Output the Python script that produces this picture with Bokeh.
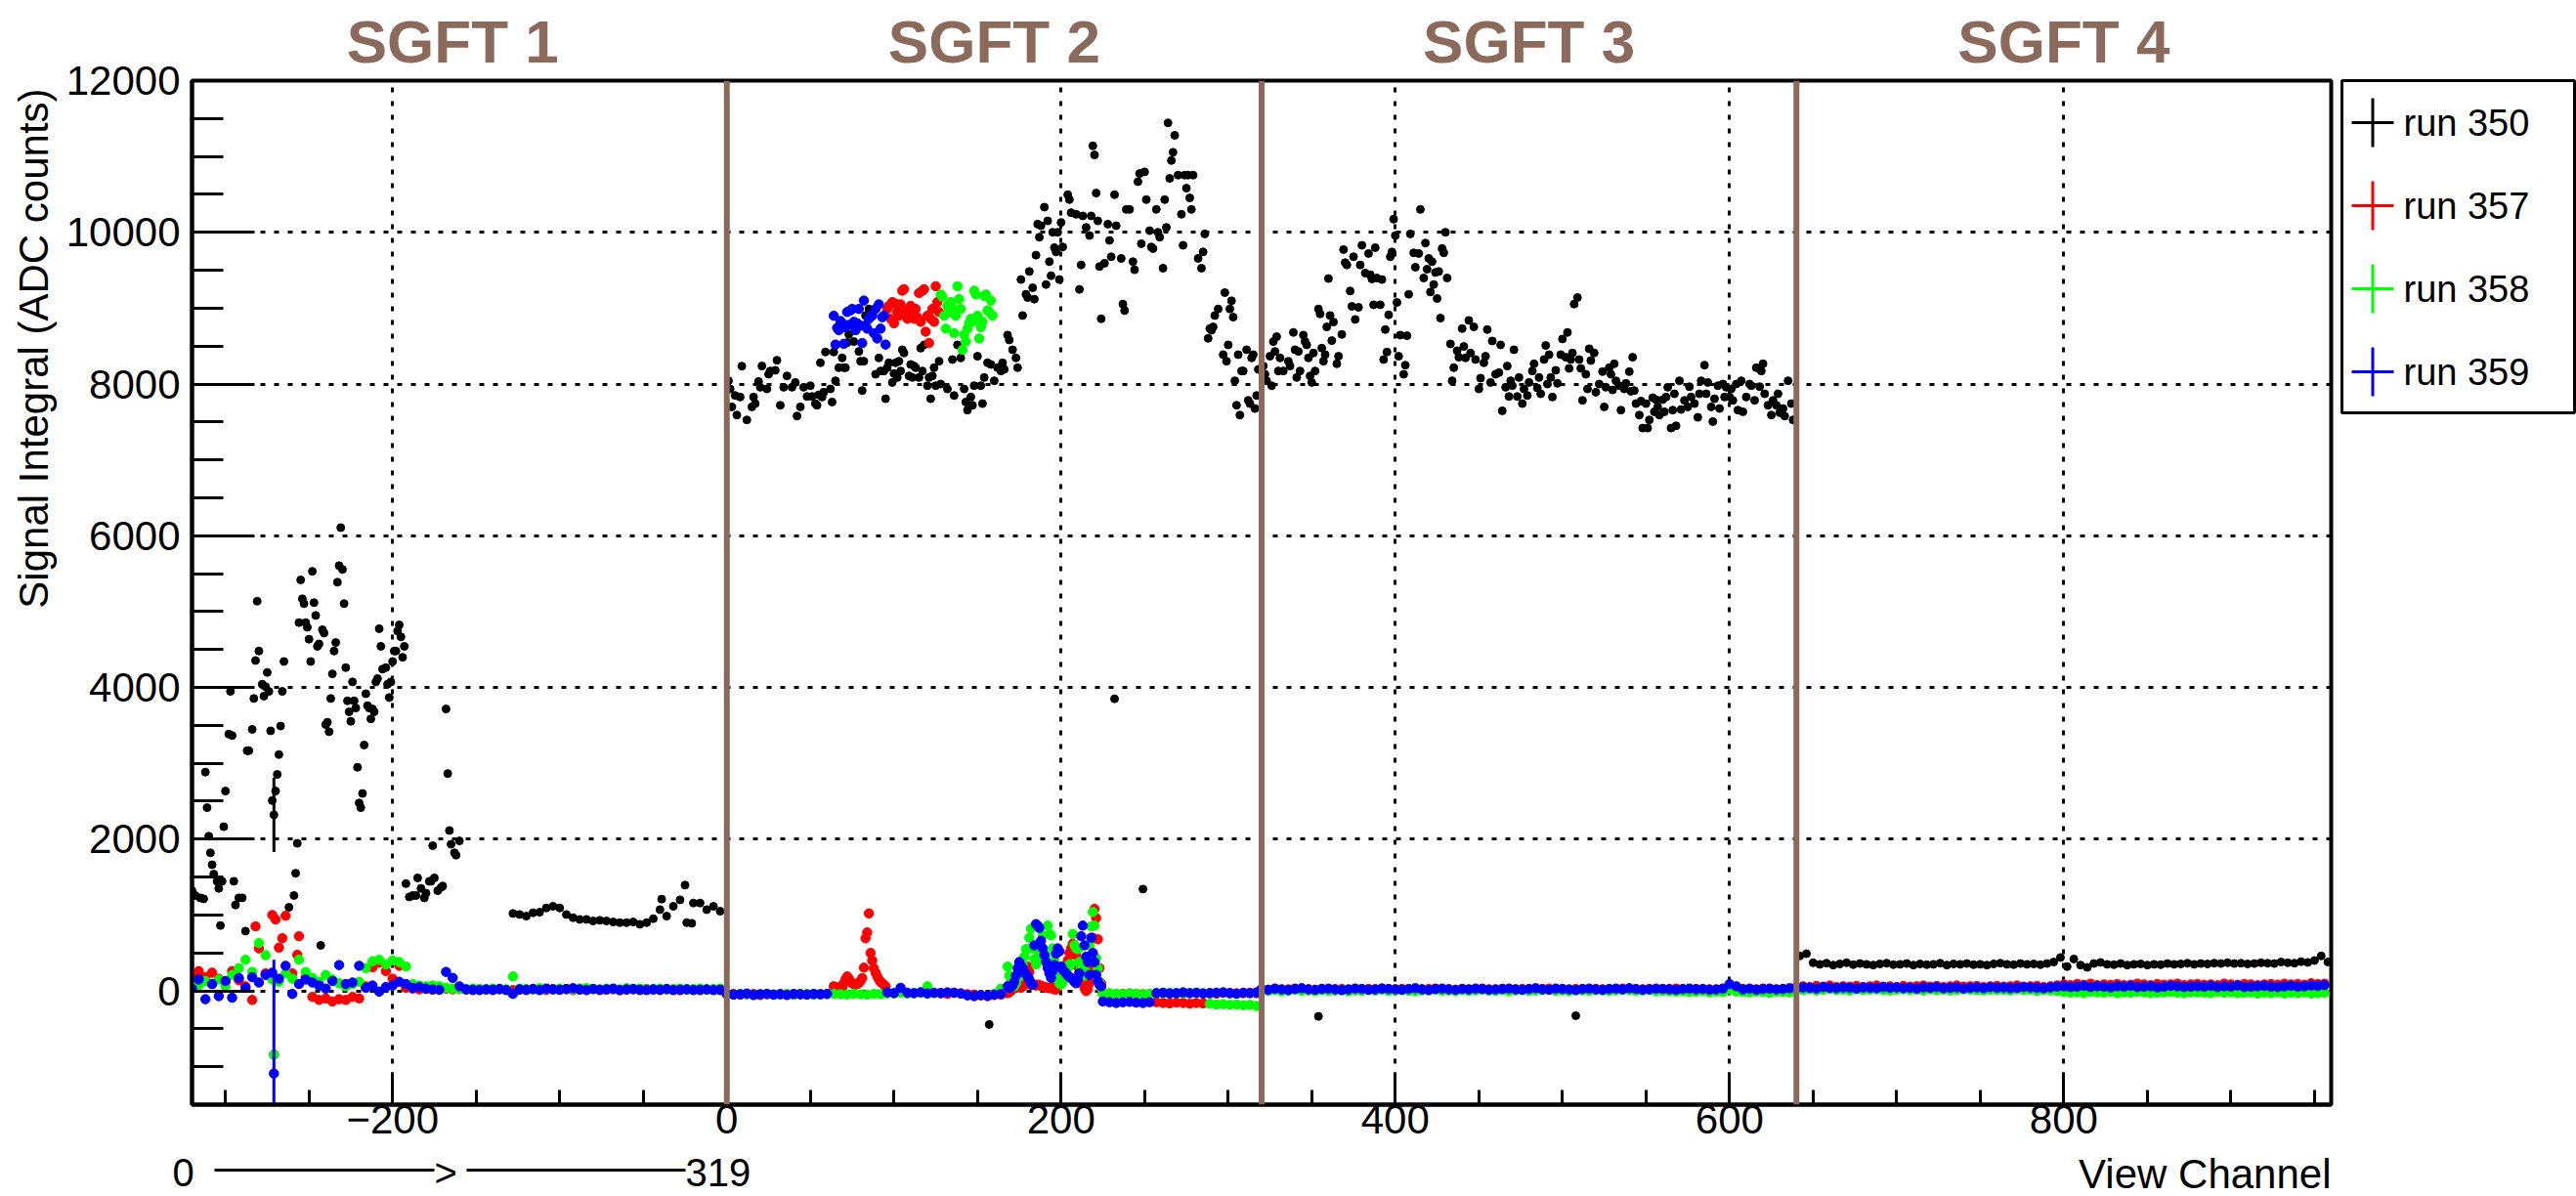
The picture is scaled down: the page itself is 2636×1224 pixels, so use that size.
from math import pi
from bokeh.plotting import figure
from bokeh.models import Range1d, FixedTicker, Span, LinearAxis
from bokeh.layouts import row, column
from bokeh.embed import file_html
from bokeh.resources import INLINE
from bokeh.core.properties import value

# ---------------------------------------------------------------- data
sgft_names = ["SGFT 1", "SGFT 2", "SGFT 3", "SGFT 4"]
sgft_label_x = [-164, 160, 480, 800]
sgft_bounds = [0, 320, 640]
run_names = ["run 350", "run 357", "run 358", "run 359"]
run_colors = ["#000000", "#ff0000", "#00ff00", "#0000ff"]
x_major = [-200, 0, 200, 400, 600, 800]
y_major = [0, 2000, 4000, 6000, 8000, 10000, 12000]
x_label_text = {-200: "\u2212200"}
x_title = "View Channel"
y_title = "Signal Integral (ADC counts)"
bottom_note = ["0", ">", "319"]

# run 350 (black): (channel, value)
run350_sgft1 = [(-320,1320),(-318,1257),(-315,1226),(-313,1213),(-312,2884),(-311,2415),(-310,2039),(-309,1820),
    (-308,1663),(-307,1539),(-305,1445),(-304,1351),(-303,862),(-302,1445),(-301,2164),(-300,2634),(-298,3385),
    (-297,3948),(-296,3366),(-295,1445),(-294,1132),(-292,1226),(-290,1226),(-288,788),(-287,3166),(-286,3166),
    (-284,3447),(-283,3854),(-282,4355),(-281,5137),(-280,4480),(-278,4042),(-277,3885),(-276,4010),(-275,4198),
    (-274,3948),(-273,3428),(-272,2508),(-271,2321),(-270,2634),(-269,2853),(-268,3115),(-267,3491),(-266,3948),
    (-265,4342),(-262,1101),(-259,1257),(-258,1551),(-257,1945),(-256,4855),(-255,5418),(-254,5168),(-253,5105),
    (-252,4855),(-251,4793),(-250,4636),(-249,4342),(-248,5531),(-247,5118),(-246,4949),(-245,4542),(-244,4574),
    (-243,600),(-242,4761),(-241,4717),(-240,3510),(-239,3541),(-238,3416),(-237,3854),(-236,4179),(-235,4480),
    (-234,4592),(-233,5387),(-232,5606),(-231,6107),(-230,5556),(-229,5105),(-228,4261),(-227,3823),(-226,3679),
    (-225,3554),(-224,4073),(-223,3823),(-222,3729),(-221,2947),(-220,2477),(-219,2415),(-218,2602),(-217,3241),
    (-216,3917),(-215,3760),(-214,3729),(-213,3585),(-212,3716),(-211,3679),(-210,4073),(-209,4117),(-208,4774),
    (-207,4542),(-206,4242),(-204,4261),(-203,4042),(-202,3867),(-201,4073),(-200,4342),(-199,4480),(-198,4480),
    (-197,4743),(-196,4824),(-195,4667),(-194,4398),(-193,4542),(-192,1413),(-190,1238),(-188,1257),(-186,1257),
    (-185,1489),(-183,1351),(-181,1226),(-180,1288),(-178,1445),(-177,1445),(-176,1914),(-175,1489),(-173,1320),
    (-171,1363),(-170,1382),(-168,3716),(-167,2865),(-166,2114),(-165,1933),(-163,1820),(-162,1789),(-160,1977)]
run350_plateau = [1020,1007,985,1029,1037,1093,1115,1093,1007,964,942,942,921,930,921,908,
                  899,899,908,878,899,951,1071,985,1115,1200,899,1158,1158,1071,1115,1050]   # ch -128..-4 step 4
run350_extra = [(-39,1209),(-25,1394),(-21,891),(157,-443),(232,3850),(249,1342),(354,-336),(508,-327)]
run350_sgft2 = [(1,8043),(2,7935),(3,7699),(5,7849),(6,7591),(8,7828),(9,8236),(12,7527),(15,7699),(16,7828),
    (17,7742),(19,8034),(20,7957),(21,8237),(24,7935),(25,8129),(26,8172),(29,8181),(30,8314),(32,7720),(34,7957),
    (36,8107),(39,7957),(41,8021),(42,7578),(44,7699),(46,7957),(48,7836),(50,7978),(51,7836),(53,7742),(54,7720),
    (55,7858),(56,8280),(57,7828),(58,7892),(59,8422),(62,7935),(63,7763),(64,8422),(65,8043),(67,8215),(69,8344),
    (70,8215),(71,8215),(72,8546),(73,8654),(76,8559),(77,8705),(79,8430),(80,8301),(81,7914),(82,8301),(83,8903),
    (85,8990),(87,8968),(89,8129),(91,8344),(92,8172),(94,8172),(95,7806),(96,8215),(97,8280),(99,8021),(100,8138),
    (101,8280),(102,8086),(103,8301),(104,8172),(105,8452),(106,8409),(109,8107),(110,8258),(111,8086),(112,8237),
    (113,8215),(115,8086),(116,8473),(117,8172),(118,8516),(120,7978),(121,8086),(122,7806),(123,8107),(124,8215),
    (125,7978),(127,8301),(128,8000),(132,7935),(135,8323),(136,7849),(138,8516),(140,8344),(142,7935),(143,7763),
    (144,7656),(146,7828),(147,7720),(148,7978),(150,8366),(152,7978),(153,7742),(154,8086),(156,8280),(158,8258),
    (160,8043),(162,8215),(164,8172),(165,8280),(166,8193),(168,8645),(169,8581),(171,8452),(173,8344),(174,8215),
    (176,9377),(177,8903),(179,9183),(180,9140),(181,9484),(183,9269),(184,9119),(185,9699),(186,10108),(187,9936),
    (188,10087),(190,10332),(191,9312),(192,10151),(193,9613),(194,9428),(195,10001),(196,9798),(197,9742),
    (198,10001),(199,9377),(200,10130),(201,9807),(204,10496),(205,10431),(206,10259),(209,10237),(211,9248),
    (212,9570),(213,10216),(215,10065),(217,9958),(218,10216),(219,11140),(220,11020),(221,10517),(222,10151),
    (223,9549),(224,8860),(226,9592),(228,10108),(229,9893),(230,9678),(232,10496),(233,10087),(236,9656),
    (237,9054),(238,8968),(239,10302),(241,10302),(243,9613),(244,9506),(246,10668),(247,10775),(248,9850),
    (250,10797),(251,10431),(253,10022),(254,9807),(255,9786),(257,10302),(258,10001),(259,9936),(261,9527),
    (262,10431),(263,10065),(264,11443),(265,10711),(266,10947),(267,11055),(268,11279),(270,10754),(272,10238),
    (273,9829),(274,10754),(275,10582),(276,10754),(277,10453),(278,10302),(279,10754),(282,9656),(284,9527),
    (285,9742),(286,9979),(288,8602),(289,8731),(290,8710),(291,8753),(292,8903),(294,8990),(297,8387),(298,9205),
    (299,8301),(300,8516),(301,8990),(302,9097),(303,8882),(304,8043),(305,7720),(306,8387),(307,7591),(308,8172),
    (309,8172),(311,8452),(312,7785),(313,7742),(314,8344),(315,8387),(316,7677),(317,7849),(318,8193)]
run350_sgft3 = [(321,8237),(322,8129),(323,8043),(325,8366),(326,7978),(327,8559),(328,8430),(329,8624),(330,8172),
    (331,8344),(333,8172),(336,8301),(337,8237),(339,8680),(340,8452),(341,8086),(342,8430),(343,8172),(345,8645),
    (346,8559),(347,8516),(348,8344),(349,8107),(350,8021),(351,8409),(352,8172),(354,8990),(355,8925),(356,8473),
    (357,8301),(358,8387),(359,8753),(360,9390),(361,8903),(362,8572),(363,8817),(365,8267),(366,8366),(368,8654),
    (369,9773),(370,9600),(371,9570),(373,9226),(374,9024),(375,9678),(376,8852),(378,9011),(379,9570),(380,9829),
    (382,9463),(384,9721),(385,9441),(386,9385),(387,9045),(388,9798),(389,9398),(391,9045),(392,9377),(393,8323),
    (394,8718),(395,8422),(396,8912),(397,9678),(398,9742),(399,10173),(400,9958),(401,9076),(402,8366),(403,8645),
    (405,8129),(406,8249),(407,8637),(408,9183),(409,9979),(411,9730),(412,9540),(414,9721),(415,10302),(417,9398),
    (418,9859),(419,9514),(420,9656),(421,9213),(422,9613),(423,9312),(424,9471),(425,9127),(426,9484),(427,8869),
    (428,9786),(429,9730),(430,10001),(431,9398),(433,8529),(434,8043),(435,8215),(437,8439),(438,8353),(440,8731),
    (441,8495),(442,8344),(444,8839),(445,8409),(447,8753),(448,8323),(450,7935),(451,8077),(453,8280),(454,8366),
    (455,8718),(457,8021),(458,8568),(460,8129),(462,8150),(463,8516),(464,7647),(466,7957),(467,8237),(468,7836),
    (469,8043),(470,7978),(471,8452),(473,7836),(474,8086),(476,7742),(477,7935),(479,7849),(480,8021),(482,8172),
    (483,8267),(485,7948),(486,8086),(487,7871),(489,8323),(490,8508),(491,8000),(492,8387),(493,8086),(494,7828),
    (496,8181),(497,8009),(499,8387),(500,8594),(502,8353),(503,8680),(504,8206),(505,8323),(506,8409),(507,9054),
    (509,9140),(510,8323),(511,8206),(512,7785),(514,8129),(515,7935),(516,8465),(517,8310),(519,8409),(520,7892),
    (522,8000),(524,8163),(525,7699),(526,7957),(528,8215),(529,8129),(530,7922),(531,8267),(532,8043),(534,7978),
    (535,7656),(537,7935),(538,8009),(540,8163),(541,7905),(542,8353),(543,7914),(544,7742),(546,7591),(547,7776),
    (548,7419),(550,7742),(551,7419),(552,7527),(554,7819),(555,7634),(556,7794),(557,7699),(558,7591),(560,7794),
    (561,7634),(562,7828),(563,7957),(565,7419),(566,7656),(567,7871),(568,7449),(570,8043),(571,7664),(573,7785),
    (575,7699),(576,7965),(577,7828),(579,7742),(581,7561),(582,7871),(583,8043),(585,8249),(586,7871),(587,8021),
    (589,7699),(590,7505),(591,7806),(593,7978),(594,7677),(596,8000),(597,7828),(598,7957),(600,7828),(601,7935),
    (602,7785),(604,8000),(605,7656),(607,8043),(608,7634),(610,7828),(612,8000),(613,7978),(615,7785),(616,8215),
    (618,7965),(619,8172),(620,8267),(621,7871),(623,7720),(625,7591),(626,7785),(628,7720),(629,7871),(630,7622),
    (632,7677),(633,7578),(635,8043),(637,7742),(638,7527)]
run350_sgft4 = [460,490,370,350,365,340,355,370,345,360, 350,340,355,365,345,350,360,340,355,345,
                350,365,340,355,350,360,345,350,340,355, 365,350,345,360,350,355,345,360,380,440,
                320,420,340,310,360,375,350,345,360,340, 350,355,340,350,345,360,350,355,365,350,
                360,355,365,360,370,360,365,355,360,370, 365,360,380,370,365,385,375,400,460,380]   # ch 642..958 step 4
run350_err = [(-271, 2321, 490)]

# run 357 (red)
run357_sgft1 = [220,260,180,240,160,120,260,140,60,-120, 560,230,1000,570,990,230,720,180,-80,-120,
                -100,-140,-110,-120,-80,-100,60,310,370,260, 160,330,40,30,20,25,15,20,30,20,
                25,15,10,20,15,10,20,15,10,15, 10,20,15,10,25,15,20,10,15,20,
                25,10,15,20,10,15,20,10,25,15, 10,20,15,10,20,15,10,15,20,10]   # ch -320..-4 step 4
run357_extra = [(-282,850),(-270,940),(-266,694),(-257,475),(-271,-840)]
run357_sgft2_a = [-45,-40,-50,-45,-40,-55,-45,-50,-40,-45,-50,-40,-45,-50,-45,-40]          # ch 0..60 step 4
run357_bump = [60,50,45,40,45,40,100,150,190,160, 125,100,90,82,90,103,130,168,306,693,
               770,1020,499,400,297,240,189,150,116,100, 82,60]                               # ch 64..95
run357_high = [8990,9030,8860,9080,8800,9060,8950,8900,9050,9230, 9250,8970,8860,8900,9030,8900,8860,8990,8880,9200,
               8820,9230,9250,8690,8900,8540,8860,8990,8820,9290, 9080,8950]                  # ch 96..127
run357_sgft2_b = [-30,-40,-25,-35,-45,-50,-60,-70,-55,-50]                                   # ch 128..164 step 4
run357_spikes = [-30,-20,0,20,40,60,90,60,40,60, 80,200,320,250,80,90,80,70,82,75,
                 65,60,50,45,40,35,40,30,20,17, 100,200,210,240,255,300,400,500,560,620,
                 600,470,320,250,190,120,40,-4,20,100, 300,700,1080,960,680,300,100]           # ch 168..224
run357_sgft2_c = [-40,-35,-45,-40,-35,-40,-45,-40, -150,-160,-165,-155,-160,-170,-160,-165,
                  -30,-35,-25,-30,-35,-30,-25,-30]                                           # ch 225..317 step 4
run357_sgft3 = [20,10,25,15,20,30,15,20,10,25, 15,20,25,10,20,15,25,20,30,15, 20,25,15,10,20,25,30,15,20,10,
                25,15,20,30,20,15,25,10,20,25, 15,20,25,30,15,20,10,25,20,15, 25,20,15,20,30,25,15,20,25,10,
                20,25,30,15,20,25,15,20,10,25, 40,20,25,15,20,30,20,15,25,20]                # ch 320..636 step 4
run357_sgft4 = [55,60,50,65,55,70,50,60,55,65, 50,60,70,55,60,50,65,55,60,70, 55,65,50,60,70,55,60,65,50,60,
                65,55,60,70,55,60,65,50,60,70, 85,75,90,80,95,75,85,80,90,75, 80,95,85,75,90,80,85,95,75,85,
                90,80,85,75,95,85,80,90,85,75, 85,90,80,95,85,90,80,100,90,95]               # ch 640..956 step 4

# run 358 (green)
run358_sgft1 = [110,70,130,90,150,60,210,300,410,250, 630,470,150,120,230,160,410,250,170,120,
                210,150,100,60,90,120,300,390,410,350, 400,380,320,90,70,60,70,60,40,30,
                25,20,30,25,20,30,25,20,190, 30,25,20,35,25,20,30,25,20,30,
                35,25,20,30,25,20,35,25,30,20, 25,30,20,25,30,20,25,30,20,25,30]                # ch -320..-4 step 4
run358_extra = [(-271,-840)]
run358_sgft2_a = [-45,-50,-40,-45,-50,-45,-40,-50,-45,-40,-50,-45,-40,-50,-45,-40,
                  -40,-45,-50,-40,-45,-50,-40,-45, -35,-30,-25,-35,-30,-20,60,-30]            # ch 0..124 step 4
run358_high = [9180,9150,8900,8730,9030,8950,9080,9010,8670,8900, 9290,9120,8990,8450,8650,8560,8730,8800,8860,8820,
               9230,9180,8900,8600,8750,8820,9160,9180,8970,8950, 9100,8900]                  # ch 128..159
run358_sgft2_b = [-40,30]                                                                    # ch 160..164 step 4
run358_spikes = [320,200,120,80,60,100,160,200,230,350, 450,550,550,700,820,560,420,350,400,490,
                 480,730,470,470,860,750,730,560,400,250, 150,100,82,120,180,250,300,350,350,750,
                 600,560,550,380,300,250,200,250,380,600, 850,1040,860,430,300,120,40]         # ch 168..224
run358_sgft2_c = [-40,-35,-40,-45,-35,-40,-45,-40, -30,-35,-25,-30,-35,-30,-25,-30,
                  -170,-180,-175,-185,-180,-190,-185,-200]                                   # ch 225..317 step 4
run358_sgft3 = [5,0,10,-5,5,15,0,5,-5,10, 0,5,10,-5,5,0,10,5,15,0, 5,10,0,-5,5,10,15,0,5,-5,
                10,0,5,15,5,0,10,-5,5,10, 0,5,10,15,0,5,-5,10,5,0, 10,5,0,5,15,10,0,5,10,-5,
                0,-5,-10,-5,-15,-10,-5,-20,-10,-15, 20,-10,-15,-20,-10,-15,-25,-10,-15,-20]    # ch 320..636 step 4
run358_sgft4 = [15,10,20,5,15,25,10,15,5,20, 10,15,20,10,5,15,20,10,15,5, 20,10,15,5,10,20,15,10,5,15,
                10,15,5,20,10,15,0,10,5,0, -15,-25,-20,-30,-15,-20,-25,-15,-30,-20,
                -25,-15,-20,-30,-25,-20,-15,-25,-30,-20, -20,-25,-30,-15,-25,-20,-30,-25,-20,-35,
                -25,-30,-20,-35,-25,-30,-20,-35,-30,-25]                                     # ch 640..956 step 4

# run 359 (blue)
run359_sgft1 = [30,150,-110,90,-70,130,-90,170,40,180, 110,210,240,160,330,-40,90,150,110,70,
                30,130,340,90,110,330,40,70,-10,50, 70,120,90,40,50,30,20,15,250,170,
                60,20,15,10,20,15,25,10,-40, 20,15,25,10,30,20,15,25,35,20,
                10,25,15,20,30,10,20,25,15,10, 20,15,25,10,15,20,10,15,20,10,15]              # ch -320..-4 step 4
run359_extra = [(-271,-1090)]
run359_sgft2_a = [-40,-50,-45,-35,-55,-45,-40,-50,-45,-55,-40,-45,-50,-40,-45,-40]          # ch 0..60 step 4
run359_high = [8900,8520,8740,8710,8830,8800,8530,8750,8950,8780, 8970,8990,8820,8710,8800,8990,8770,8540,9100,8770,
               8730,8860,8900,8900,8670,8990,8600,9050,8730,8880, 8900,8520]                  # ch 64..95
run359_sgft2_b = [-20,-30,40,-25,-30,-20,-35,-25,-30,-20,-25,-35,-60,-70,-55,-65,-50,-40]   # ch 96..164 step 4
run359_spikes = [60,40,50,70,120,200,300,380,330,300, 250,220,190,150,100,80,600,880,860,830,
                 660,560,470,380,300,230,170,260,340,490, 560,520,320,280,250,230,200,180,170,150,
                 120,100,160,230,720,860,600,450,380,210, 700,500,380,210,130,80,60]           # ch 168..224
run359_sgft2_c = [-140,-150,-160,-150,-145,-155,-160,-150]                                  # ch 225..253 step 4
run359_sgft2_d = [-30,-25,-35,-30,-20,-30,-25,-35,-30,-25,-20,-30,-35,-25,-30,-20]          # ch 257..317 step 4
run359_sgft3 = [25,15,30,20,10,25,35,20,15,25, 30,20,10,20,30,25,15,20,30,25, 20,15,25,35,20,10,25,30,20,15,
                25,20,30,25,15,20,25,30,20,15, 25,35,20,15,30,25,20,10,25,30, 20,15,25,30,20,35,25,15,20,30,
                25,20,15,25,30,20,25,15,20,30, 90,60,20,30,15,25,30,20,25,35]                # ch 320..636 step 4
run359_sgft4 = [35,45,40,30,50,40,35,45,40,30, 45,40,35,50,40,45,35,40,30,45, 40,50,35,40,45,30,40,45,35,50,
                40,45,35,40,50,45,40,35,45,55, 60,50,55,65,50,60,55,45,60,55, 65,50,55,60,45,55,65,60,50,55,
                60,55,65,50,60,55,70,50,55,60, 65,55,50,60,65,55,60,70,65,75]                # ch 640..956 step 4
run359_err = [(-271, -1090, 1500)]


def steps(start, stop, step, vals):
    return list(zip(range(start, stop, step), vals))


def unzip(pairs):
    return [a for a, _ in pairs], [b for _, b in pairs]


black = (run350_sgft1 + steps(-128, 0, 4, run350_plateau) + run350_extra + run350_sgft2 + run350_sgft3
         + steps(642, 960, 4, run350_sgft4))
red = (steps(-320, 0, 4, run357_sgft1) + run357_extra + steps(0, 64, 4, run357_sgft2_a) + steps(64, 96, 1, run357_bump)
       + steps(96, 128, 1, run357_high) + steps(128, 168, 4, run357_sgft2_b) + steps(168, 225, 1, run357_spikes)
       + steps(225, 320, 4, run357_sgft2_c) + steps(320, 640, 4, run357_sgft3) + steps(640, 960, 4, run357_sgft4))
green = (steps(-320, 0, 4, run358_sgft1) + run358_extra + steps(0, 128, 4, run358_sgft2_a)
         + steps(128, 160, 1, run358_high) + steps(160, 168, 4, run358_sgft2_b) + steps(168, 225, 1, run358_spikes)
         + steps(225, 320, 4, run358_sgft2_c) + steps(320, 640, 4, run358_sgft3) + steps(640, 960, 4, run358_sgft4))
blue = (steps(-320, 0, 4, run359_sgft1) + run359_extra + steps(0, 64, 4, run359_sgft2_a) + steps(64, 96, 1, run359_high)
        + steps(96, 168, 4, run359_sgft2_b) + steps(168, 225, 1, run359_spikes) + steps(225, 257, 4, run359_sgft2_c)
        + steps(257, 320, 4, run359_sgft2_d) + steps(320, 640, 4, run359_sgft3) + steps(640, 960, 4, run359_sgft4))
series = [black, red, green, blue]
errors = [run350_err, [], [], run359_err]
marker_sizes = [9, 10.5, 10.5, 10.5]

# ---------------------------------------------------------------- layout constants (pixels)
FONT = "Liberation Sans"
BROWN = "#8b6a5b"
X_MIN, X_MAX, Y_MIN, Y_MAX = -320, 960, -1500, 12000
FL, FT, FW, FH = 196, 82, 2189, 1048        # main frame: left, top, width, height
W_MAIN, H = 2392, 1224
MAIN_BT = 47                                 # main figure bottom border (x tick labels)
MAIN_H = FT + FH + MAIN_BT
BOT_H = H - MAIN_H                           # strip below (x title, note)
Y_TITLE_MID = 356                            # pixel row of the y title's middle


def xd(px):
    """absolute pixel column -> channel, same mapping as the main frame"""
    return X_MIN + (px - FL) * (X_MAX - X_MIN) / FW


def yd(py):
    """absolute pixel row -> value, same mapping as the main frame"""
    return Y_MAX - (py - FT) * (Y_MAX - Y_MIN) / FH


# ---- main plot
p = figure(title=None, frame_width=FW, frame_height=FH, x_range=Range1d(X_MIN, X_MAX),
           y_range=Range1d(Y_MIN, Y_MAX), output_backend="svg", toolbar_location=None,
           min_border_left=FL, min_border_top=FT, min_border_right=W_MAIN - FL - FW,
           min_border_bottom=MAIN_BT)
p.outline_line_color = "black"
p.outline_line_width = 4
p.outline_line_alpha = 1.0
p.background_fill_color = "white"
p.border_fill_color = "white"

p.xgrid.ticker = FixedTicker(ticks=x_major)
p.ygrid.ticker = FixedTicker(ticks=y_major[:-1])
for g in (p.xgrid[0], p.ygrid[0]):
    g.grid_line_color = "black"
    g.grid_line_dash = "5 9"
    g.grid_line_width = 3
    g.grid_line_alpha = 1.0

xa, ya = p.xaxis[0], p.yaxis[0]
xa.ticker = FixedTicker(ticks=x_major, minor_ticks=list(range(-300, 960, 50)))
ya.ticker = FixedTicker(ticks=y_major, minor_ticks=list(range(-1500, 12001, 500)))
for ax in (xa, ya):
    ax.axis_line_width = 4
    ax.axis_line_color = "black"
    ax.major_tick_line_width = 3
    ax.minor_tick_line_width = 3
    ax.major_tick_line_color = "black"
    ax.minor_tick_line_color = "black"
    ax.major_tick_out = 0
    ax.minor_tick_out = 0
    ax.major_label_text_font = FONT
    ax.major_label_text_font_size = "42px"
    ax.major_label_text_color = "black"
xa.major_tick_in = 33
xa.minor_tick_in = 15
xa.major_label_standoff = 0
xa.major_label_overrides = x_label_text
ya.major_tick_in = 64
ya.minor_tick_in = 32
ya.major_label_standoff = 12


def label_axis(ticks, labels, **style):
    """an axis that only carries text labels (no line, no ticks)"""
    return LinearAxis(ticker=FixedTicker(ticks=ticks),
                      major_label_overrides={t: s for t, s in zip(ticks, labels)},
                      axis_line_color=None, major_tick_line_color=None, minor_tick_line_color=None,
                      major_tick_in=0, major_tick_out=0, minor_tick_in=0, minor_tick_out=0,
                      major_label_text_font=FONT, **style)


# section names above the frame
p.add_layout(label_axis(sgft_label_x, sgft_names, major_label_standoff=6, major_label_text_font_style="bold",
                        major_label_text_font_size="62px", major_label_text_color=BROWN), "above")
# y title, outside the tick labels, reading bottom to top
y_mid = round(yd(Y_TITLE_MID))
p.add_layout(label_axis([y_mid], [y_title], major_label_standoff=6, major_label_orientation="parallel",
                        major_label_text_font_size="42px", major_label_text_color="black"), "left")

for pts, errs, col, sz in zip(series, errors, run_colors, marker_sizes):
    xs, ys = unzip(pts)
    for (ex, ey, ee) in errs:
        p.segment(x0=[ex], y0=[ey - ee], x1=[ex], y1=[ey + ee], line_color=col, line_width=3)
    p.scatter(xs, ys, marker="circle", size=sz - 1, fill_color=col, line_color=col, line_width=1)

for b in sgft_bounds:
    p.add_layout(Span(location=b, dimension="height", line_color=BROWN, line_width=6))

# ---- strip below: x title and channel-direction note (spans the full width, from x pixel 0)
bot = figure(title=None, frame_width=W_MAIN, frame_height=BOT_H, x_range=Range1d(xd(0), xd(W_MAIN)),
             y_range=Range1d(BOT_H, 0), x_axis_type=None, y_axis_type=None, output_backend="svg",
             toolbar_location=None, min_border=0)
bot.outline_line_color = None
bot.grid.visible = False
bot.text(x=[X_MAX], y=[1200.5 - MAIN_H], text=[x_title], text_font=value(FONT), text_font_size=value("42px"),
         text_color="black", text_align=value("right"), text_baseline=value("middle"))
bot.text(x=[xd(176), xd(444), xd(701)], y=[1199.5 - MAIN_H] * 3, text=bottom_note, text_font=value(FONT),
         text_font_size=value("40px"), text_color="black", text_align=value("left"),
         text_baseline=value("middle"))
bot.segment(x0=[xd(219), xd(477)], y0=[1197 - MAIN_H] * 2, x1=[xd(444), xd(701)], y1=[1197 - MAIN_H] * 2,
            line_color="black", line_width=3)

# ---- legend panel
LW, LH = 238, 340
leg = figure(title=None, frame_width=LW, frame_height=LH, x_range=Range1d(0, LW), y_range=Range1d(LH, 0),
             x_axis_type=None, y_axis_type=None, output_backend="svg", toolbar_location=None,
             min_border_left=4, min_border_right=2, min_border_top=FT, min_border_bottom=H - FT - LH)
leg.outline_line_color = "black"
leg.outline_line_width = 3
leg.outline_line_alpha = 1.0
leg.grid.visible = False
rows_y = [43 + 85 * i for i in range(len(run_names))]
leg.segment(x0=[10] * 4, y0=rows_y, x1=[53] * 4, y1=rows_y, line_color=run_colors, line_width=3)
leg.segment(x0=[31.5] * 4, y0=[y - 25 for y in rows_y], x1=[31.5] * 4, y1=[y + 25 for y in rows_y],
            line_color=run_colors, line_width=3)
leg.text(x=[63] * 4, y=rows_y, text=run_names, text_font=value(FONT), text_font_size=value("38px"),
         text_baseline=value("middle"), text_align=value("left"), text_color="black")

# the main plot is wrapped in its own row so the strip below is not border-aligned with it
layout = row(column(row(p, spacing=0), bot, spacing=0), leg, spacing=0)
open("out.html", "w").write(file_html(layout, INLINE))
